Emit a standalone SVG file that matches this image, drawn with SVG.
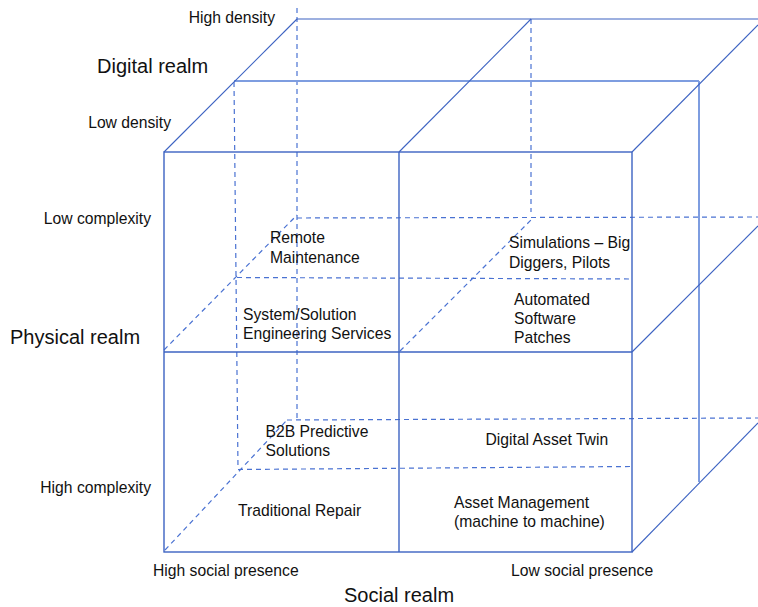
<svg xmlns="http://www.w3.org/2000/svg" width="758" height="607" viewBox="0 0 758 607">
<style>
text{font-family:"Liberation Sans",Arial,sans-serif;fill:#111;font-size:15.7px}
.big{font-size:20px}
.frame{stroke:#3d63c2;stroke-width:1.4;fill:none}
.diag{stroke:#3d63c2;stroke-width:1.1;fill:none}
.mid{stroke:#7e9de0;stroke-width:2;fill:none}
.dash{stroke:#4a72d2;stroke-width:1.2;stroke-dasharray:5 4;fill:none}
</style>
<rect width="758" height="607" fill="#fff"/>
<g id="connectors">
<line class="dash" x1="297" y1="8" x2="297" y2="418"/>
<line class="dash" x1="531" y1="19" x2="531" y2="212"/>
<line class="dash" x1="234" y1="82" x2="238" y2="469"/>
<line class="dash" x1="297" y1="218" x2="758" y2="217"/>
<line class="dash" x1="287" y1="420" x2="758" y2="418"/>
<line class="dash" x1="237" y1="277.5" x2="632" y2="279"/>
<line class="dash" x1="238" y1="469.5" x2="632" y2="466.5"/>
<line class="dash" x1="164" y1="350" x2="297" y2="215"/>
<line class="dash" x1="400" y1="351" x2="531" y2="220"/>
<line class="dash" x1="165" y1="550" x2="287" y2="420"/>
<line class="mid" x1="234" y1="81" x2="699" y2="81"/>
<line class="mid" x1="699" y1="81" x2="699" y2="482"/>
<line class="diag" x1="297" y1="19" x2="758" y2="19"/>
<line class="diag" x1="164" y1="152" x2="297" y2="19"/>
<line class="diag" x1="399" y1="152" x2="531" y2="19"/>
<line class="diag" x1="632" y1="152" x2="758" y2="25"/>
<line class="diag" x1="632" y1="352" x2="758" y2="226"/>
<line class="diag" x1="632" y1="552" x2="758" y2="423"/>
<rect class="frame" x="164" y="152" width="468" height="400"/>
<line class="frame" x1="164" y1="352" x2="632" y2="352"/>
<line class="frame" x1="399" y1="152" x2="399" y2="552"/>
</g>
<g id="axis-labels">
<text x="275" y="23" text-anchor="end">High density</text>
<text class="big" x="97" y="73">Digital realm</text>
<text x="171" y="128" text-anchor="end">Low density</text>
<text x="151" y="224" text-anchor="end">Low complexity</text>
<text class="big" x="10" y="344">Physical realm</text>
<text x="151" y="493" text-anchor="end">High complexity</text>
<text x="153" y="576">High social presence</text>
<text x="511" y="576">Low social presence</text>
<text class="big" x="344" y="602">Social realm</text>
</g>
<g id="remote-maintenance"><text x="270" y="243">Remote</text><text x="270" y="262.5">Maintenance</text></g>
<g id="simulations"><text x="509" y="248">Simulations – Big</text><text x="509" y="267.5">Diggers, Pilots</text></g>
<g id="system-solution"><text x="243" y="320">System/Solution</text><text x="243" y="339">Engineering Services</text></g>
<g id="automated-patches"><text x="514" y="304.5">Automated</text><text x="514" y="324">Software</text><text x="514" y="343">Patches</text></g>
<g id="b2b-predictive"><text x="265.5" y="437">B2B Predictive</text><text x="265.5" y="456">Solutions</text></g>
<g id="digital-asset-twin"><text x="485.5" y="444.5">Digital Asset Twin</text></g>
<g id="traditional-repair"><text x="238" y="516">Traditional Repair</text></g>
<g id="asset-management"><text x="454" y="507.5">Asset Management</text><text x="454" y="527">(machine to machine)</text></g>
</svg>
